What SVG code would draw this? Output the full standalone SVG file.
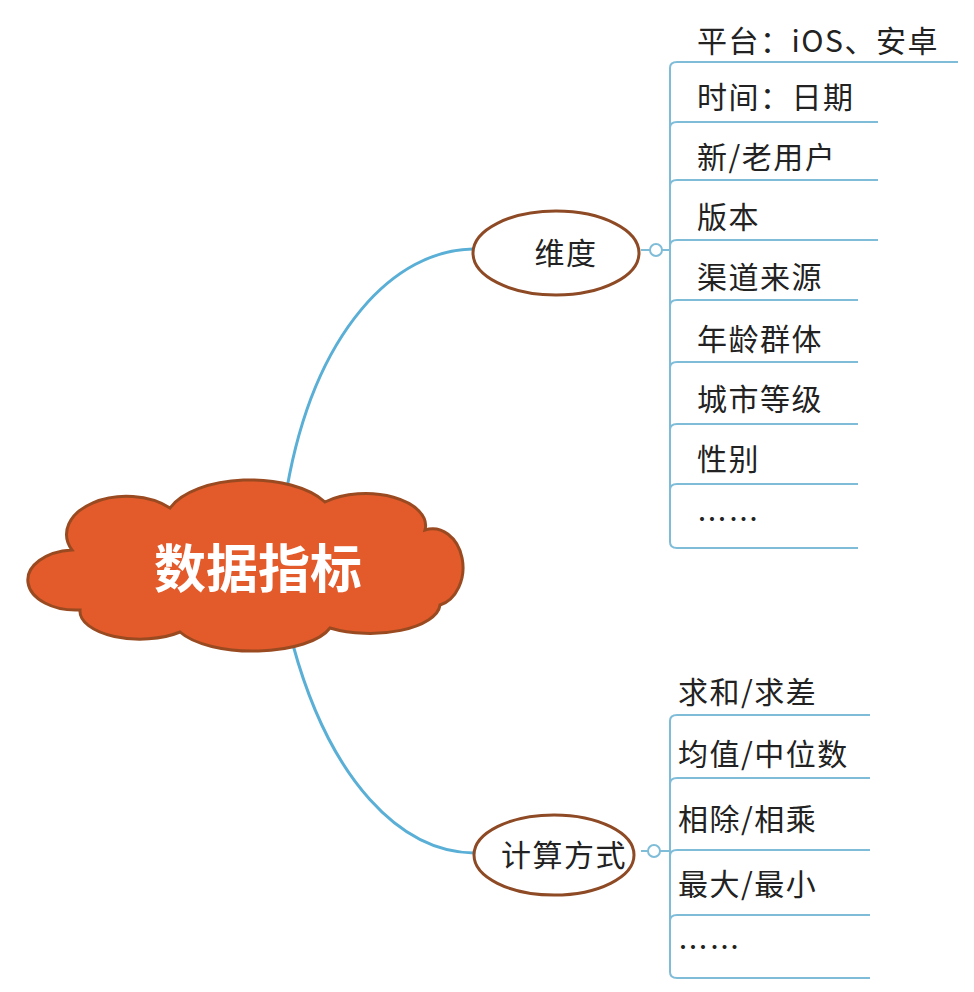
<svg xmlns="http://www.w3.org/2000/svg" width="974" height="992" viewBox="0 0 974 992">
<style>
.t{font-family:"Noto Sans CJK SC","Liberation Sans",sans-serif;font-size:30px;letter-spacing:1.5px;fill:#222}
.c{fill:none;stroke:#5AAFD6;stroke-width:3}
.b{fill:none;stroke:#7FBCD8;stroke-width:2}
.e{fill:#fff;stroke:#8E4A25;stroke-width:3}
</style>
<rect width="974" height="992" fill="#fff"/>
<g id="connectors">
<path class="c" d="M287,488 C315,330 395,250 473,249"/>
<path class="c" d="M293,645 C330,780 400,852 474,853"/>
<path class="b" d="M641,250 H670"/>
<path class="b" d="M641,851 H670"/>
</g>
<g id="root">
<path d="M80,610 A40,25 0 0 1 72,550 A60,38 0 0 1 170,508 A85,42 0 0 1 325,502 A60,32 0 0 1 425,530 A30,38 0 0 1 440,605 A70,30 0 0 1 330,628 A80,32 0 0 1 180,632 A60,28 0 0 1 80,610 Z" fill="#E35A2B" stroke="#9A4A20" stroke-width="3"/>
<text x="258" y="588" text-anchor="middle" font-family="Noto Sans CJK SC,sans-serif" font-size="52" font-weight="bold" fill="#fff">数据指标</text>
</g>
<g id="dim">
<ellipse class="e" cx="556" cy="253" rx="83" ry="42"/>
<text class="t" x="566" y="264" text-anchor="middle">维度</text>
<circle cx="656" cy="250" r="6" fill="#fff" stroke="#7FBCD8" stroke-width="2"/>
</g>
<g id="calc">
<ellipse class="e" cx="554" cy="855" rx="80" ry="40"/>
<text class="t" x="564" y="866" text-anchor="middle">计算方式</text>
<circle cx="654" cy="851" r="6" fill="#fff" stroke="#7FBCD8" stroke-width="2"/>
</g>
<g id="dim-items">
<path class="b" d="M670,68 V542"/>
<path class="b" d="M670,68 Q670,62 677,62 H958"/>
<path class="b" d="M670,128 Q670,122 677,122 H878"/>
<path class="b" d="M670,186 Q670,180 677,180 H878"/>
<path class="b" d="M670,246 Q670,240 677,240 H878"/>
<path class="b" d="M670,306 Q670,300 677,300 H858"/>
<path class="b" d="M670,368 Q670,362 677,362 H858"/>
<path class="b" d="M670,430 Q670,424 677,424 H858"/>
<path class="b" d="M670,490 Q670,484 677,484 H858"/>
<path class="b" d="M670,542 Q670,548 677,548 H858"/>
<text class="t" x="697" y="52">平台：iOS、安卓</text>
<text class="t" x="697" y="108">时间：日期</text>
<text class="t" x="697" y="168">新/老用户</text>
<text class="t" x="697" y="228">版本</text>
<text class="t" x="697" y="288">渠道来源</text>
<text class="t" x="697" y="350">年龄群体</text>
<text class="t" x="697" y="410">城市等级</text>
<text class="t" x="697" y="470">性别</text>
<text class="t" x="697" y="530">……</text>
</g>
<g id="calc-items">
<path class="b" d="M670,721 V972"/>
<path class="b" d="M670,721 Q670,715 677,715 H870"/>
<path class="b" d="M670,784 Q670,778 677,778 H870"/>
<path class="b" d="M670,856 Q670,850 677,850 H870"/>
<path class="b" d="M670,921 Q670,915 677,915 H870"/>
<path class="b" d="M670,972 Q670,978 677,978 H870"/>
<text class="t" x="678" y="703">求和/求差</text>
<text class="t" x="678" y="765">均值/中位数</text>
<text class="t" x="678" y="830">相除/相乘</text>
<text class="t" x="678" y="895">最大/最小</text>
<text class="t" x="678" y="958">……</text>
</g>
</svg>
